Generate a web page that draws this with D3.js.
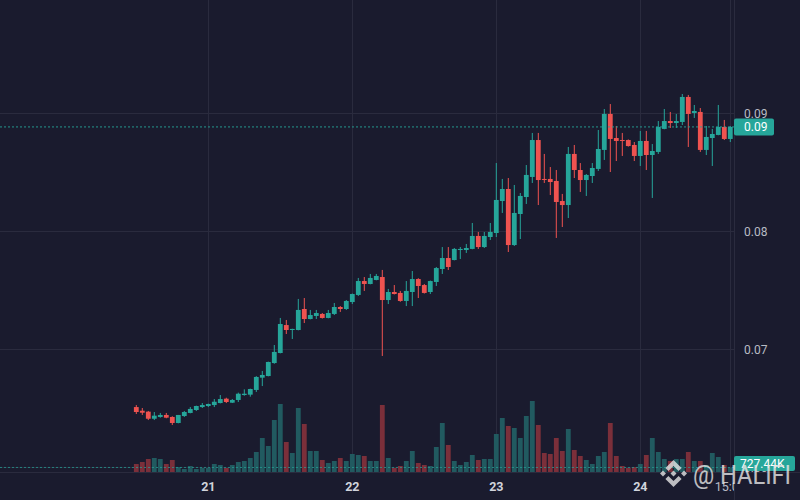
<!DOCTYPE html>
<html>
<head>
<meta charset="utf-8">
<script src="https://cdn.jsdelivr.net/npm/d3@7"></script>
<style>
  html, body { margin: 0; padding: 0; background: #1a1b2e; }
  svg { display: block; }
  text { font-family: Roboto, "Liberation Sans", sans-serif; }
</style>
</head>
<body>
<div id="chart"></div>
<script>
var W = 800, H = 500;

// hourly candles, first one at 20th 12:00
var startTime = new Date(2024, 0, 20, 12);

var opens = [
  0.06508,0.06477,0.06469,0.06409,0.06424,0.06441,0.06424,0.06373,0.06432,0.06458,
  0.06483,0.06508,0.06517,0.06525,0.06542,0.06579,0.06545,0.06568,0.06610,0.06613,
  0.06653,0.06757,0.06771,0.06881,0.06966,0.07203,0.07161,0.07161,0.07339,0.07254,
  0.07280,0.07297,0.07263,0.07297,0.07356,0.07339,0.07398,0.07458,0.07576,0.07551,
  0.07585,0.07610,0.07415,0.07483,0.07475,0.07407,0.07483,0.07593,0.07542,0.07483,
  0.07568,0.07678,0.07771,0.07754,0.07839,0.07839,0.07848,0.07958,0.07864,0.07949,
  0.07983,0.08254,0.08356,0.07881,0.08144,0.08288,0.08458,0.08771,0.08441,0.08441,
  0.08424,0.08254,0.08220,0.08653,0.08517,0.08432,0.08466,0.08526,0.08687,0.08992,
  0.08788,0.08771,0.08771,0.08729,0.08636,0.08763,0.08644,0.08670,0.08865,0.08932,
  0.08915,0.08924,0.09136,0.09000,0.09009,0.08687,0.08788,0.08814,0.08882,0.08780
];
var highs = [
  0.06525,0.06500,0.06475,0.06466,0.06458,0.06458,0.06430,0.06441,0.06475,0.06508,
  0.06520,0.06542,0.06537,0.06576,0.06610,0.06587,0.06576,0.06630,0.06658,0.06664,
  0.06770,0.06814,0.06893,0.07034,0.07263,0.07246,0.07172,0.07424,0.07432,0.07331,
  0.07331,0.07305,0.07331,0.07390,0.07364,0.07415,0.07470,0.07602,0.07610,0.07636,
  0.07636,0.07670,0.07509,0.07542,0.07492,0.07576,0.07661,0.07600,0.07551,0.07580,
  0.07695,0.07864,0.07864,0.07856,0.07864,0.07890,0.08068,0.07992,0.07992,0.08068,
  0.08576,0.08441,0.08449,0.08390,0.08322,0.08559,0.08831,0.08831,0.08653,0.08542,
  0.08517,0.08314,0.08712,0.08729,0.08576,0.08483,0.08576,0.08856,0.09034,0.09076,
  0.08890,0.08831,0.08776,0.08754,0.08848,0.08848,0.08737,0.08932,0.09034,0.09009,
  0.08992,0.09161,0.09153,0.09068,0.09042,0.08890,0.08865,0.09068,0.08941,0.08890
];
var lows = [
  0.06449,0.06441,0.06398,0.06398,0.06418,0.06413,0.06356,0.06370,0.06424,0.06455,
  0.06475,0.06500,0.06508,0.06508,0.06539,0.06542,0.06542,0.06551,0.06604,0.06596,
  0.06636,0.06686,0.06768,0.06875,0.06963,0.07127,0.07085,0.07158,0.07220,0.07251,
  0.07254,0.07258,0.07260,0.07288,0.07314,0.07331,0.07381,0.07449,0.07492,0.07548,
  0.07582,0.06941,0.07381,0.07462,0.07400,0.07364,0.07364,0.07432,0.07470,0.07466,
  0.07534,0.07636,0.07670,0.07751,0.07763,0.07814,0.07845,0.07848,0.07856,0.07924,
  0.07949,0.08153,0.07822,0.07873,0.07932,0.08229,0.08407,0.08220,0.08407,0.08305,
  0.07941,0.08034,0.08110,0.08449,0.08331,0.08297,0.08407,0.08509,0.08602,0.08500,
  0.08593,0.08636,0.08715,0.08593,0.08551,0.08517,0.08280,0.08653,0.08862,0.08873,
  0.08873,0.08898,0.08712,0.08958,0.08670,0.08644,0.08551,0.08811,0.08771,0.08754
];
var closes = [
  0.06466,0.06460,0.06409,0.06435,0.06441,0.06418,0.06373,0.06441,0.06466,0.06492,
  0.06517,0.06525,0.06534,0.06553,0.06576,0.06551,0.06568,0.06621,0.06621,0.06661,
  0.06763,0.06780,0.06890,0.06975,0.07212,0.07161,0.07170,0.07331,0.07254,0.07288,
  0.07305,0.07263,0.07305,0.07356,0.07339,0.07407,0.07466,0.07576,0.07551,0.07602,
  0.07619,0.07415,0.07483,0.07466,0.07407,0.07492,0.07593,0.07534,0.07475,0.07576,
  0.07686,0.07771,0.07695,0.07848,0.07848,0.07856,0.07958,0.07864,0.07958,0.07992,
  0.08263,0.08356,0.07881,0.08153,0.08297,0.08475,0.08771,0.08432,0.08437,0.08415,
  0.08246,0.08220,0.08653,0.08517,0.08432,0.08475,0.08534,0.08695,0.08992,0.08780,
  0.08763,0.08767,0.08720,0.08636,0.08763,0.08644,0.08678,0.08882,0.08932,0.08915,
  0.08932,0.09136,0.08992,0.09017,0.08687,0.08797,0.08822,0.08882,0.08780,0.08882
];
// volume in thousands
var volumes = [
  1280,1600,2080,2240,2080,1280,1920,800,480,960,
  480,640,640,1280,1120,640,1120,1600,1760,2240,
  3200,5440,4160,8320,10880,4800,3040,10240,7680,3360,
  3360,1920,1440,1760,2240,1760,2880,2720,2560,1760,
  1760,10720,2240,640,960,1760,3360,1440,1120,960,
  4000,7840,4320,1760,1120,1600,2720,1920,2080,2080,
  6080,8640,7360,7040,5440,8960,11360,7520,3040,2880,
  5440,3360,6880,3520,2560,1920,1280,2560,3200,7840,
  2560,960,640,800,1280,2720,5440,3200,2080,1760,
  2080,2080,3200,1760,1760,1120,3040,2400,1120,727.44
];

var priceTicks = [0.06, 0.07, 0.08, 0.09];
var timeTicks = [
  new Date(2024, 0, 21), new Date(2024, 0, 22), new Date(2024, 0, 23),
  new Date(2024, 0, 24), new Date(2024, 0, 24, 15)
];

var data = opens.map(function(o, i) {
  return {
    t: d3.timeHour.offset(startTime, i),
    o: o, h: highs[i], l: lows[i], c: closes[i], v: volumes[i]
  };
});
var last = data[data.length - 1];

var UP = "#26a69a", DOWN = "#ef5350",
    UPV = "#215a60", DOWNV = "#7b2f3a",
    GRID = "#2a2b3e", AXIS_TXT = "#b8bbc4";

var plotR = 734, plotB = 472;

var x = d3.scaleTime()
  .domain([data[0].t, last.t])
  .range([136.3, 730.3]);
var y = d3.scaleLinear().domain([0.07, 0.09]).range([349, 113]);
var yVol = d3.scaleLinear().domain([0, 12000]).range([plotB, plotB - 75]);

var svg = d3.select("#chart").append("svg")
  .attr("width", W).attr("height", H);

svg.append("rect").attr("width", W).attr("height", H).attr("fill", "#1a1b2e");

var defs = svg.append("defs");
defs.append("clipPath").attr("id", "plotClip")
  .append("rect").attr("x", 0).attr("y", 0).attr("width", plotR).attr("height", H);

// grid
var grid = svg.append("g").attr("clip-path", "url(#plotClip)");
grid.selectAll(".hg").data(priceTicks).enter().append("line")
  .attr("x1", 0).attr("x2", plotR)
  .attr("y1", function(d) { return Math.round(y(d)) + 0.5; })
  .attr("y2", function(d) { return Math.round(y(d)) + 0.5; })
  .attr("stroke", GRID);
grid.selectAll(".vg").data(timeTicks).enter().append("line")
  .attr("x1", function(d) { return Math.round(x(d)) + 0.5; })
  .attr("x2", function(d) { return Math.round(x(d)) + 0.5; })
  .attr("y1", 0).attr("y2", plotB)
  .attr("stroke", GRID);

// volume bars
var bw = 4.8;
svg.append("g").selectAll("rect").data(data).enter().append("rect")
  .attr("x", function(d) { return x(d.t) - bw / 2; })
  .attr("width", bw)
  .attr("y", function(d) { return yVol(d.v); })
  .attr("height", function(d) { return plotB - yVol(d.v); })
  .attr("fill", function(d) { return d.c >= d.o ? UPV : DOWNV; });

// candles
var candles = svg.append("g").selectAll("g").data(data).enter().append("g");
candles.append("line")
  .attr("x1", function(d) { return x(d.t); })
  .attr("x2", function(d) { return x(d.t); })
  .attr("y1", function(d) { return y(d.h); })
  .attr("y2", function(d) { return y(d.l); })
  .attr("stroke", function(d) { return d.c >= d.o ? UP : DOWN; })
  .attr("stroke-width", 1);
candles.append("rect")
  .attr("x", function(d) { return x(d.t) - bw / 2; })
  .attr("width", bw)
  .attr("y", function(d) { return y(Math.max(d.o, d.c)); })
  .attr("height", function(d) { return Math.max(1, Math.abs(y(d.o) - y(d.c))); })
  .attr("fill", function(d) { return d.c >= d.o ? UP : DOWN; });

// last price / last volume lines
svg.append("line")
  .attr("x1", 0).attr("x2", plotR)
  .attr("y1", y(last.c)).attr("y2", y(last.c))
  .attr("stroke", UP).attr("stroke-dasharray", "2,2").attr("opacity", 0.9);
svg.append("line")
  .attr("x1", 0).attr("x2", plotR)
  .attr("y1", yVol(last.v)).attr("y2", yVol(last.v))
  .attr("stroke", UP).attr("stroke-dasharray", "2,2").attr("opacity", 0.7);

// axis borders
svg.append("line").attr("x1", 0).attr("x2", W).attr("y1", plotB + 0.5).attr("y2", plotB + 0.5)
  .attr("stroke", GRID);
svg.append("line").attr("x1", plotR + 0.5).attr("x2", plotR + 0.5).attr("y1", 0).attr("y2", H)
  .attr("stroke", GRID);

// price labels
svg.append("g").selectAll("text").data(priceTicks).enter().append("text")
  .attr("x", 744).attr("y", function(d) { return y(d) + 4.5; })
  .attr("font-size", "12px").attr("fill", AXIS_TXT)
  .text(function(d) { return d3.format(".2f")(d); });

// time labels (clipped by the price scale)
var fmtTime = function(d) {
  return d.getHours() === 0 ? d3.timeFormat("%-d")(d) : d3.timeFormat("%H:%M")(d);
};
svg.append("g").attr("clip-path", "url(#plotClip)")
  .selectAll("text").data(timeTicks).enter().append("text")
  .attr("x", function(d) { return x(d); })
  .attr("y", 490.5)
  .attr("text-anchor", "middle")
  .attr("font-size", "12.5px")
  .attr("font-weight", function(d) { return d.getHours() === 0 ? "bold" : "normal"; })
  .attr("fill", function(d) { return d.getHours() === 0 ? "#d1d4dc" : "#b8bbc4"; })
  .text(fmtTime);

// last value boxes
svg.append("rect").attr("x", plotR).attr("y", y(last.c) - 8.5)
  .attr("width", 40).attr("height", 17).attr("rx", 2).attr("fill", UP);
svg.append("text").attr("x", 744).attr("y", y(last.c) + 4.5)
  .attr("font-size", "12px").attr("fill", "#ffffff")
  .text(d3.format(".2f")(last.c));

var volBoxY = Math.min(yVol(last.v) - 7.5, plotB - 16);
svg.append("rect").attr("x", plotR).attr("y", volBoxY)
  .attr("width", 61).attr("height", 15).attr("rx", 2).attr("fill", UP);
svg.append("text").attr("x", 740).attr("y", volBoxY + 11.5)
  .attr("font-size", "12px").attr("fill", "#ffffff")
  .text(d3.format(".2f")(last.v) + "K");

// watermark
var wm = svg.append("g").attr("opacity", 0.8);
var logo = wm.append("g").attr("transform", "translate(660,460) scale(27)")
  .attr("fill", "#e6e6e6");
var logoShapes = [
  [[0.5,0],[0.8,0.3],[0.69,0.41],[0.5,0.22],[0.31,0.41],[0.2,0.3]],
  [[0.5,1],[0.8,0.7],[0.69,0.59],[0.5,0.78],[0.31,0.59],[0.2,0.7]],
  [[0.5,0.39],[0.61,0.5],[0.5,0.61],[0.39,0.5]],
  [[0.11,0.39],[0.22,0.5],[0.11,0.61],[0,0.5]],
  [[0.89,0.39],[1,0.5],[0.89,0.61],[0.78,0.5]]
];
logo.selectAll("path").data(logoShapes).enter().append("path")
  .attr("d", function(d) { return "M" + d.join("L") + "Z"; });
wm.append("text").attr("x", 693).attr("y", 484)
  .attr("font-size", "26px").attr("fill", "#e6e6e6")
  .attr("font-family", "'Liberation Sans', Arial, sans-serif")
  .attr("textLength", 98).attr("lengthAdjust", "spacingAndGlyphs")
  .text("@ HALIFI");
</script>
</body>
</html>
